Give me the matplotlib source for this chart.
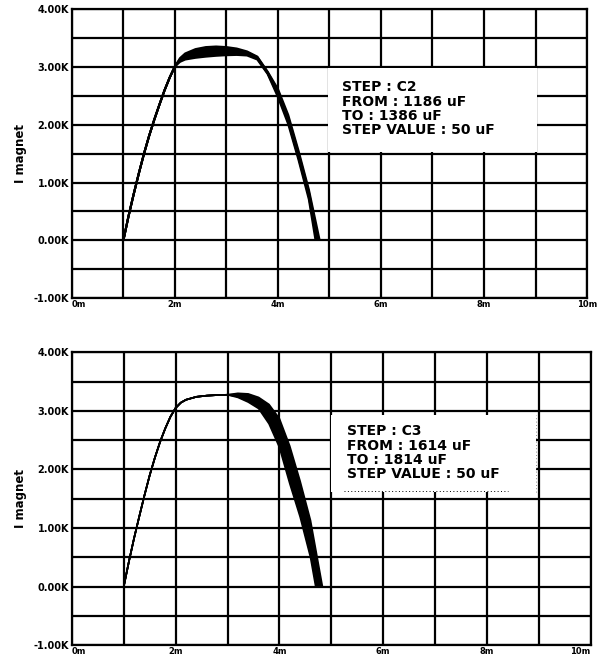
import matplotlib
matplotlib.use('Agg')
import matplotlib.pyplot as plt
from matplotlib.patches import Rectangle


# =============================================================================
# Data (time in ms, magnet current in A)
# =============================================================================

# --- upper plot: step C2, 1186 uF ... 1386 uF ---
t_rise_top = [1.0, 1.1, 1.2, 1.3, 1.4, 1.5, 1.6, 1.7, 1.8, 1.9, 2.0]
i_rise_top = [0, 420, 800, 1160, 1500, 1810, 2090, 2350, 2600, 2820, 3010]
t_tail_top = [2.1, 2.2, 2.4, 2.6, 2.8, 3.0, 3.2, 3.4, 3.6, 3.8, 4.0, 4.2, 4.4, 4.6]
i_top_c1 = [3090, 3130, 3160, 3180, 3195, 3205, 3210, 3200, 3130, 2880, 2480, 2010, 1390, 710]
i_top_c2 = [3110, 3160, 3200, 3225, 3240, 3245, 3240, 3220, 3145, 2890, 2520, 2050, 1430, 760]
i_top_c3 = [3125, 3185, 3240, 3270, 3280, 3280, 3270, 3240, 3160, 2900, 2560, 2090, 1470, 800]
i_top_c4 = [3140, 3210, 3280, 3310, 3320, 3315, 3295, 3255, 3170, 2910, 2590, 2130, 1510, 840]
i_top_c5 = [3155, 3235, 3310, 3345, 3355, 3345, 3320, 3270, 3180, 2920, 2620, 2170, 1550, 880]
t_end_top = [4.73, 4.75, 4.77, 4.79, 4.81]

# --- lower plot: step C3, 1614 uF ... 1814 uF ---
t_rise_bot = [1.0, 1.1, 1.2, 1.3, 1.4, 1.5, 1.6, 1.7, 1.8, 1.9, 2.0, 2.1, 2.2,
              2.4, 2.6, 2.8, 3.0]
i_rise_bot = [0, 430, 830, 1200, 1560, 1900, 2200, 2470, 2700, 2900, 3050, 3140,
              3190, 3240, 3260, 3270, 3275]
t_tail_bot = [3.2, 3.4, 3.6, 3.8, 4.0, 4.2, 4.4, 4.6]
i_bot_c1 = [3230, 3150, 3040, 2780, 2380, 1760, 1190, 500]
i_bot_c2 = [3245, 3185, 3100, 2870, 2500, 1920, 1340, 660]
i_bot_c3 = [3260, 3220, 3150, 2950, 2620, 2080, 1490, 820]
i_bot_c4 = [3280, 3255, 3190, 3030, 2750, 2240, 1640, 980]
i_bot_c5 = [3300, 3290, 3230, 3110, 2870, 2400, 1800, 1130]
t_end_bot = [4.70, 4.73, 4.76, 4.80, 4.83]

y_ticks = [-1000, 0, 1000, 2000, 3000, 4000]
y_tick_labels = ['-1.00K', '0.00K', '1.00K', '2.00K', '3.00K', '4.00K']
x_ticks = [0, 2, 4, 6, 8, 10]
x_tick_labels = ['0m', '2m', '4m', '6m', '8m', '10m']

box_text_top = ['STEP : C2', 'FROM : 1186 uF', 'TO : 1386 uF', 'STEP VALUE : 50 uF']
box_text_bot = ['STEP : C3', 'FROM : 1614 uF', 'TO : 1814 uF', 'STEP VALUE : 50 uF']


# =============================================================================
# Helpers
# =============================================================================

def setup_axes(ax, last_ha='center'):
    ax.set_xlim(0, 10)
    ax.set_ylim(-1000, 4000)
    ax.set_xticks(x_ticks)
    ax.set_xticklabels(x_tick_labels, fontsize=6, fontweight='bold')
    ax.set_xticks(range(1, 10, 2), minor=True)
    ax.set_yticks(y_ticks)
    ax.set_yticklabels(y_tick_labels, fontsize=7, fontweight='bold')
    ax.set_yticks(range(-500, 4000, 1000), minor=True)
    ax.tick_params(which='both', length=0)
    ax.tick_params(axis='x', pad=1.5)
    ax.tick_params(axis='y', pad=2)
    labels = ax.xaxis.get_majorticklabels()
    labels[0].set_horizontalalignment('left')
    labels[-1].set_horizontalalignment(last_ha)
    ax.grid(which='both', color='black', linewidth=1.6)
    ax.set_axisbelow(True)
    for s in ax.spines.values():
        s.set_linewidth(1.6)
    ax.set_ylabel('I magnet', fontsize=8.5, fontweight='bold', labelpad=5)


def plot_step(ax, t_rise, i_rise, t_tail, curves, t_end, lw):
    paths = []
    for i_tail, te in zip(curves, t_end):
        t = t_rise + t_tail + [te]
        i = i_rise + i_tail + [0]
        ax.plot(t, i, color='black', linewidth=lw, zorder=3,
                solid_capstyle='butt')
        paths.append((t, i))
    # the overlapping traces print as one solid band
    t_lo, i_lo = paths[0]
    t_hi, i_hi = paths[-1]
    ax.fill(t_lo + t_hi[::-1], i_lo + i_hi[::-1], color='black',
            linewidth=0, zorder=3)


def text_box(ax, x0, y0, x1, y1, lines, tx, ty, dotted=False):
    ax.add_patch(Rectangle((x0, y0), x1 - x0, y1 - y0, facecolor='white',
                           edgecolor='none', zorder=2))
    ax.text(tx, ty, '\n'.join(lines), fontsize=10, fontweight='bold',
            va='top', ha='left', linespacing=1.02, zorder=4)
    if dotted:
        ax.plot([5.25, 8.4], [1640, 1640], color='black', linewidth=0.7,
                linestyle=(0, (1, 2.5)), zorder=4)
        ax.plot([x1, x1], [y0, y1], color='0.4', linewidth=0.6,
                linestyle=(0, (1, 3)), zorder=4)


# =============================================================================
# Figure
# =============================================================================

fig = plt.figure(figsize=(5.99, 6.61), dpi=100)

ax1 = fig.add_axes([0.120, 0.549, 0.860, 0.437])
setup_axes(ax1)
plot_step(ax1, t_rise_top, i_rise_top, t_tail_top,
          [i_top_c1, i_top_c2, i_top_c3, i_top_c4, i_top_c5], t_end_top, 1.5)
text_box(ax1, 4.98, 1530, 9.03, 2975, box_text_top, 5.25, 2770)

ax2 = fig.add_axes([0.120, 0.024, 0.866, 0.443])
setup_axes(ax2, last_ha='right')
plot_step(ax2, t_rise_bot, i_rise_bot, t_tail_bot,
          [i_bot_c1, i_bot_c2, i_bot_c3, i_bot_c4, i_bot_c5], t_end_bot, 1.2)
text_box(ax2, 5.0, 1620, 8.95, 2930, box_text_bot, 5.3, 2770, dotted=True)

fig.savefig('out.png', dpi=100)
